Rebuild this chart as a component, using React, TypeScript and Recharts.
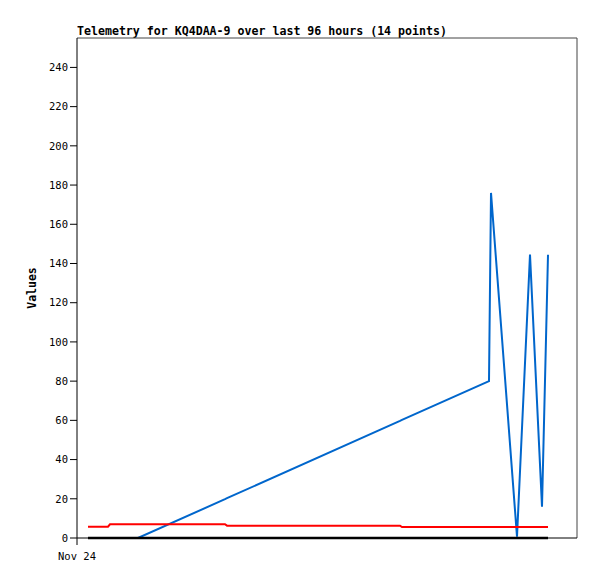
import { LineChart, Line, XAxis, YAxis, ReferenceLine } from "recharts";

// hours since Nov 24 00:00
const hours = [2.2, 6.2, 6.6, 12.2, 29.6, 30.0, 64.6, 65.0, 82.4, 82.8, 88.0, 90.6, 93.0, 94.2];
const blueValues = [0, 0, 0, 0, 19.8, 20.3, 59.7, 60.2, 80, 176, 0.7, 144.5, 16, 144.5];
const redValues = [5.8, 5.8, 7.0, 7.0, 7.0, 6.3, 6.3, 5.6, 5.6, 5.6, 5.6, 5.6, 5.6, 5.6];
const blackValues = [0, 0, 0, 0, 0, 0, 0, 0, 0, 0, 0, 0, 0, 0];
const yTicks = [0, 20, 40, 60, 80, 100, 120, 140, 160, 180, 200, 220, 240];
const xTicks = [0];
const xTickLabels = ["Nov 24"];

const data = hours.map((h, i) => ({
  t: h,
  blue: blueValues[i],
  red: redValues[i],
  black: blackValues[i],
}));

const MONO = "'DejaVu Sans Mono', monospace";

const App = () => {
  return (
    <div style={{ position: "absolute", left: 0, top: 0, width: 597, height: 579, background: "#fff" }}>
      <div
        style={{
          position: "absolute",
          left: 77,
          top: 24,
          fontFamily: MONO,
          fontWeight: "bold",
          fontSize: 11.6,
          color: "#000",
          whiteSpace: "nowrap",
        }}
      >
        Telemetry for KQ4DAA-9 over last 96 hours (14 points)
      </div>
      <LineChart width={597} height={579} data={data} margin={{ top: 38, right: 20, bottom: 11, left: 0 }}>
        <XAxis
          dataKey="t"
          type="number"
          domain={[0, 100]}
          ticks={xTicks}
          tickFormatter={(v) => xTickLabels[xTicks.indexOf(v)] ?? ""}
          height={30}
          tickSize={7}
          axisLine={{ stroke: "#000", strokeWidth: 1 }}
          tickLine={{ stroke: "#000" }}
          tick={{ fill: "#000", fontFamily: MONO, fontSize: 10.5, dy: 6 }}
        />
        <YAxis
          type="number"
          domain={[0, 255]}
          ticks={yTicks}
          width={77}
          tickSize={7}
          axisLine={{ stroke: "#000", strokeWidth: 1 }}
          tickLine={{ stroke: "#000" }}
          tick={{ fill: "#000", fontFamily: MONO, fontSize: 10.5 }}
          label={{
            value: "Values",
            angle: -90,
            position: "insideLeft",
            offset: 32,
            style: { fontFamily: MONO, fontWeight: "bold", fontSize: 11.5, fill: "#000", textAnchor: "middle" },
          }}
        />
        <ReferenceLine y={255} stroke="#444" strokeWidth={1} ifOverflow="visible" />
        <ReferenceLine x={100} stroke="#444" strokeWidth={1} ifOverflow="visible" />
        <Line
          type="linear"
          dataKey="blue"
          stroke="#0066cc"
          strokeWidth={2}
          dot={false}
          isAnimationActive={false}
        />
        <Line
          type="linear"
          dataKey="red"
          stroke="#ff0000"
          strokeWidth={2}
          dot={false}
          isAnimationActive={false}
        />
        <Line
          type="linear"
          dataKey="black"
          stroke="#000000"
          strokeWidth={2.5}
          dot={false}
          isAnimationActive={false}
        />
      </LineChart>
    </div>
  );
};

export default App;
